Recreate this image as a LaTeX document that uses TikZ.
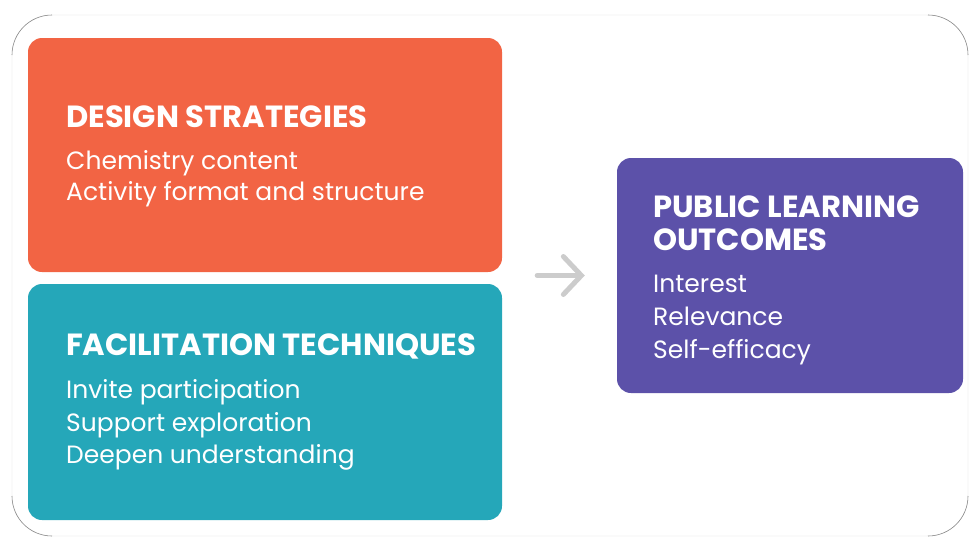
\documentclass[tikz,border=0pt]{standalone}
\usepackage{fontspec}
\setmainfont{Poppins}
\usetikzlibrary{arrows.meta,calc,positioning}

\definecolor{designorange}{HTML}{F26444}
\definecolor{facilteal}{HTML}{25A7B9}
\definecolor{outcomepurple}{HTML}{5C51A9}
\definecolor{arrowgray}{HTML}{CCCCCC}

\tikzset{
  box/.style={rounded corners=14pt, draw=none, inner sep=0pt},
  head/.style={anchor=base west, inner sep=0pt, text=white,
    font=\fontsize{30.6}{33}\selectfont\bfseries},
  body/.style={anchor=base west, inner sep=0pt, text=white,
    font=\fontsize{25}{33}\selectfont},
  frame/.style={draw=black!6, line width=0.6pt, rounded corners=40pt},
  framecorner/.style={draw=black!45, line width=0.6pt}
}

\begin{document}
\begin{tikzpicture}[x=1pt, y=-1pt]
			%%%%% START %%%%%
			\useasboundingbox (0,0) rectangle (970,538);
			
			% outer frame, only the corners show
			\draw[frame] (12,15) rectangle (968,536);
			\draw[framecorner] (12,55) arc (180:270:40);
			\draw[framecorner] (928,15) arc (270:360:40);
			\draw[framecorner] (12,496) arc (180:90:40);
			\draw[framecorner] (968,496) arc (0:90:40);
			
			% boxes
			\node[box, fill=designorange, minimum width=474pt, minimum height=234pt] (design) at (265,155) {};
			\node[box, fill=facilteal, minimum width=474pt, minimum height=236pt] (facil) at (265,402) {};
			\node[box, fill=outcomepurple, minimum width=346pt, minimum height=235pt] (outcome) at (790,275.5) {};
			
			% texts
			\node[head] (designhead) at (66,127) {DESIGN STRATEGIES};
			\node[body] (design1) at (66,169) {Chemistry content};
			\node[body] (design2) at (66,200) {Activity format and structure};
			
			\node[head] (facilhead) at (66,355) {FACILITATION TECHNIQUES};
			\node[body] (facil1) at (66,398) {Invite participation};
			\node[body] (facil2) at (66,431) {Support exploration};
			\node[body] (facil3) at (66,463) {Deepen understanding};
			
			\node[head] (outcomehead1) at (653,217) {PUBLIC LEARNING};
			\node[head] (outcomehead2) at (653,250) {OUTCOMES};
			\node[body] (outcome1) at (653,292) {Interest};
			\node[body] (outcome2) at (653,325) {Relevance};
			\node[body] (outcome3) at (653,358) {Self-efficacy};
			
			% arrow
			\draw[line width=5pt, arrowgray, line cap=round,
				-{Straight Barb[length=18pt, width=38pt, line cap=round]},
				shorten <=35pt, shorten >=32pt]
				(design.east |- outcome.west) -- (outcome.west);
			
			%%%%% END %%%%%
\end{tikzpicture}
\end{document}
